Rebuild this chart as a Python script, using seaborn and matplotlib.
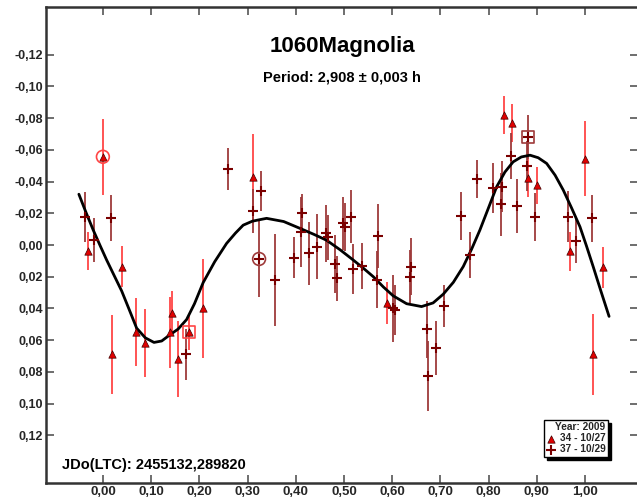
import matplotlib
matplotlib.use("Agg")
import matplotlib.pyplot as plt
import seaborn as sns
import pandas as pd

# ---------------- data ----------------
title = "1060Magnolia"
subtitle = "Period: 2,908 \u00b1 0,003 h"
jd_text = "JDo(LTC): 2455132,289820"
legend_title = "Year: 2009"
s1_label = "34 - 10/27"
s2_label = "37 - 10/29"

# session 34 (triangles)
s1_phase = [0.000, -0.030, 0.018, 0.0387, 0.068, 0.087, 0.139, 0.144, 0.156, 0.178,
            0.208, 0.312, 0.5885, 0.832, 0.848, 0.882, 0.8997, 0.969, 1.000, 1.016, 1.038]
s1_mag = [-0.0556, 0.0036, 0.069, 0.0136, 0.055, 0.062, 0.055, 0.043, 0.072, 0.055,
          0.040, -0.043, 0.0367, -0.0818, -0.077, -0.0423, -0.0377, 0.0038, -0.0545, 0.069, 0.014]
s1_err = [0.024, 0.012, 0.025, 0.013, 0.0215, 0.0215, 0.0225, 0.014, 0.024, 0.011,
          0.031, 0.027, 0.0133, 0.012, 0.012, 0.012, 0.0117, 0.0123, 0.0238, 0.0255, 0.013]

# session 37 (crosses)
s2_phase = [-0.037, -0.018, 0.0166, 0.172, 0.259, 0.312, 0.328, 0.324, 0.358, 0.397,
            0.412, 0.411, 0.428, 0.445, 0.463, 0.467, 0.481, 0.485, 0.4986, 0.502,
            0.5145, 0.519, 0.537, 0.568, 0.570, 0.601, 0.606, 0.637, 0.640, 0.6715,
            0.675, 0.692, 0.708, 0.743, 0.761, 0.777, 0.8085, 0.826, 0.8285, 0.8465,
            0.860, 0.879, 0.882, 0.896, 0.964, 0.981, 1.015]
s2_mag = [-0.0178, -0.003, -0.0168, 0.069, -0.048, -0.0216, -0.034, 0.0088, 0.022, 0.008,
          -0.020, -0.008, 0.0052, 0.001, -0.0073, -0.0048, 0.012, 0.021, -0.0136, -0.0115,
          -0.0178, 0.0151, 0.013, 0.022, -0.0057, 0.040, 0.041, 0.020, 0.0136, 0.053,
          0.0828, 0.065, 0.0384, -0.0184, 0.0063, -0.0415, -0.0357, -0.0256, -0.0367, -0.056,
          -0.0245, -0.0497, -0.068, -0.0178, -0.0178, -0.0027, -0.0168]
s2_err = [0.0157, 0.014, 0.0144, 0.016, 0.0134, 0.014, 0.0126, 0.024, 0.029, 0.013,
          0.0124, 0.022, 0.020, 0.0207, 0.018, 0.014, 0.018, 0.014, 0.0166, 0.015,
          0.0168, 0.016, 0.0145, 0.018, 0.020, 0.021, 0.0157, 0.017, 0.018, 0.018,
          0.022, 0.0168, 0.013, 0.015, 0.0144, 0.012, 0.0157, 0.020, 0.016, 0.0145,
          0.017, 0.0157, 0.0138, 0.015, 0.016, 0.0138, 0.0146]

# first / last points of each session
s1_first = (0.000, -0.0556)
s1_last = (0.178, 0.055)
s2_first = (0.324, 0.0088)
s2_last = (0.882, -0.068)

# fitted curve
curve_x = [-0.0498, -0.035, -0.020, -0.006, 0.0077, 0.023, 0.039, 0.055, 0.070, 0.088,
           0.106, 0.122, 0.139, 0.156, 0.1736, 0.190, 0.208, 0.232, 0.2566, 0.275,
           0.291, 0.310, 0.326, 0.3396, 0.375, 0.4087, 0.437, 0.464, 0.492, 0.519,
           0.541, 0.561, 0.582, 0.602, 0.630, 0.661, 0.685, 0.706, 0.727, 0.7475,
           0.765, 0.782, 0.800, 0.8168, 0.834, 0.851, 0.868, 0.886, 0.903, 0.9205,
           0.938, 0.955, 0.972, 0.9896, 1.003, 1.017, 1.033, 1.050]
curve_y = [-0.032, -0.0205, -0.0094, 0.0002, 0.0094, 0.019, 0.029, 0.041, 0.0524, 0.0585,
           0.0614, 0.0605, 0.0566, 0.053, 0.047, 0.037, 0.0237, 0.0105, -0.001, -0.0075,
           -0.0125, -0.0150, -0.016, -0.0168, -0.0148, -0.0105, -0.0068, -0.003, 0.003, 0.0094,
           0.0148, 0.020, 0.0265, 0.0320, 0.0370, 0.0388, 0.0365, 0.031, 0.0235, 0.0136,
           0.0025, -0.0094, -0.0235, -0.0367, -0.0460, -0.0524, -0.0555, -0.0566, -0.0550, -0.0514,
           -0.0440, -0.0346, -0.0235, -0.0115, 0.0005, 0.0136, 0.029, 0.045]

x_ticks = [0.0, 0.1, 0.2, 0.3, 0.4, 0.5, 0.6, 0.7, 0.8, 0.9, 1.0]
x_tick_labels = ["0,00", "0,10", "0,20", "0,30", "0,40", "0,50", "0,60", "0,70", "0,80", "0,90", "1,00"]
y_ticks = [-0.12, -0.10, -0.08, -0.06, -0.04, -0.02, 0.0, 0.02, 0.04, 0.06, 0.08, 0.10, 0.12]
y_tick_labels = ["-0,12", "-0,10", "-0,08", "-0,06", "-0,04", "-0,02", "0,00",
                 "0,02", "0,04", "0,06", "0,08", "0,10", "0,12"]

# ---------------- styles ----------------
sns.set_theme(style="white")
plt.rcParams["font.family"] = ["Liberation Sans", "DejaVu Sans"]
plt.rcParams["font.weight"] = "bold"

c1 = "#E00000"
c1_err = "#FF4545"
c2 = "#7A0000"
c2_err = "#9E3A3A"

fig = plt.figure(figsize=(6.37, 5.03), dpi=100)
ax = fig.add_axes([46 / 637, 1 - 483 / 503, (638 - 46) / 637, (483 - 7) / 503])

df1 = pd.DataFrame({"phase": s1_phase, "mag": s1_mag, "err": s1_err})
df2 = pd.DataFrame({"phase": s2_phase, "mag": s2_mag, "err": s2_err})
dfc = pd.DataFrame({"phase": curve_x, "mag": curve_y})

ax.errorbar(df1["phase"], df1["mag"], yerr=df1["err"], fmt="none", ecolor=c1_err,
            elinewidth=1.3, capsize=0, zorder=2)
ax.errorbar(df2["phase"], df2["mag"], yerr=df2["err"], fmt="none", ecolor=c2_err,
            elinewidth=1.3, capsize=0, zorder=2)

sns.lineplot(data=dfc, x="phase", y="mag", color="black", linewidth=2.0,
             sort=False, estimator=None, ax=ax, zorder=3)

sns.scatterplot(data=df2, x="phase", y="mag", marker="+", s=45, color=c2,
                linewidth=1.5, ax=ax, zorder=4, label=s2_label)
sns.scatterplot(data=df1, x="phase", y="mag", marker="^", s=28, color=c1,
                edgecolor="#400000", linewidth=0.5, ax=ax, zorder=5, label=s1_label)

# first / last markers
sns.scatterplot(x=[s1_first[0]], y=[s1_first[1]], marker="o", s=85, facecolor="none",
                edgecolor=c1_err, linewidth=1.2, ax=ax, zorder=6)
sns.scatterplot(x=[s2_first[0]], y=[s2_first[1]], marker="o", s=85, facecolor="none",
                edgecolor=c2_err, linewidth=1.2, ax=ax, zorder=6)
sns.scatterplot(x=[s1_last[0]], y=[s1_last[1]], marker="s", s=72, facecolor="none",
                edgecolor=c1_err, linewidth=1.2, ax=ax, zorder=6)
sns.scatterplot(x=[s2_last[0]], y=[s2_last[1]], marker="s", s=72, facecolor="none",
                edgecolor=c2_err, linewidth=1.2, ax=ax, zorder=6)

ax.set_xlim(-0.118, 1.110)
ax.set_ylim(0.150, -0.150)
ax.set_xlabel("")
ax.set_ylabel("")
ax.set_xticks(x_ticks)
ax.set_xticklabels(x_tick_labels, fontsize=9.5, fontweight="bold")
ax.set_yticks(y_ticks)
ax.set_yticklabels(y_tick_labels, fontsize=9, fontweight="bold")
ax.tick_params(axis="both", direction="in", length=6, width=1.2, color="#555555",
               top=True, right=True, bottom=True, left=True, pad=2)
for sp in ax.spines.values():
    sp.set_visible(True)
    sp.set_color("#333333")
    sp.set_linewidth(1.8)

ax.text(0.5, 1 - (46 - 7) / 476, title, transform=ax.transAxes, ha="center", va="center",
        fontsize=16, fontweight="bold", color="black")
ax.text(0.5, 1 - (77 - 7) / 476, subtitle, transform=ax.transAxes, ha="center", va="center",
        fontsize=10.5, fontweight="bold", color="black")
ax.text((62 - 46) / 592, 1 - (465 - 7) / 476, jd_text, transform=ax.transAxes, ha="left",
        va="center", fontsize=10.5, fontweight="bold", color="black")

# legend
h, l = ax.get_legend_handles_labels()
order = [l.index(s1_label), l.index(s2_label)]
leg = ax.legend([h[i] for i in order], [l[i] for i in order], title=legend_title,
                loc="lower right", bbox_to_anchor=((608 - 46) / 592, (483 - 457) / 476),
                fontsize=7.3, title_fontproperties={"weight": "bold", "size": 7.3},
                frameon=True, fancybox=False, shadow={"color": "black", "alpha": 1.0},
                edgecolor="black", framealpha=1, borderpad=0.25, labelspacing=0.1,
                handlelength=0.9, handletextpad=0.4, borderaxespad=0, markerscale=1.0)
leg._legend_box.align = "right"
leg.get_frame().set_linewidth(1.0)
for t in leg.get_texts():
    t.set_fontweight("bold")

fig.savefig("out.png", dpi=100)
